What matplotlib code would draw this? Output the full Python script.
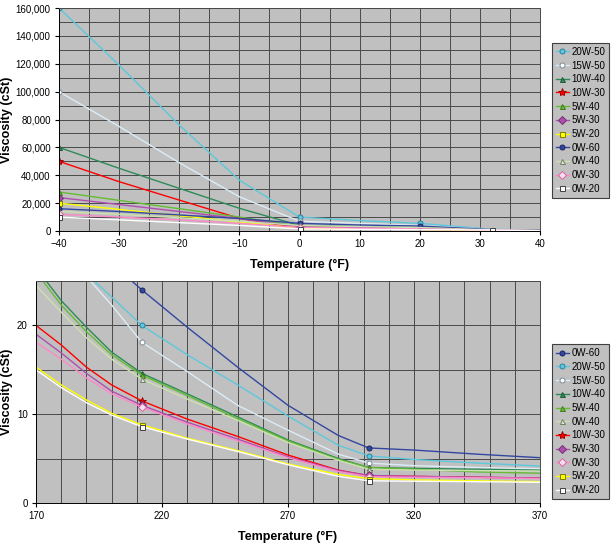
import matplotlib
matplotlib.use("Agg")
import matplotlib.pyplot as plt
from matplotlib.ticker import FuncFormatter, MultipleLocator

plt.rcParams['font.family'] = ['Liberation Sans', 'DejaVu Sans']

# cold end (°F)
cold_temp = [-40, -30, -20, -10, 0, 10, 20, 32, 40]
cold = {
    "20W-50": [160000, 119000, 76000, 36500, 10000, 7500, 5500, 1200, 600],
    "15W-50": [100000, 75000, 49000, 24600, 7000, 5500, 4000, 1000, 500],
    "10W-40": [60000, 45000, 30600, 16300, 4000, 3200, 2500, 800, 400],
    "10W-30": [50000, 35400, 22200, 9100, 2000, 1600, 1200, 600, 300],
    "5W-40": [28000, 22000, 16000, 10000, 3500, 2800, 2200, 800, 400],
    "5W-30": [24000, 19000, 14000, 9000, 3000, 2400, 1800, 700, 350],
    "5W-20": [20000, 15500, 11000, 6500, 2000, 1600, 1200, 600, 300],
    "0W-60": [16000, 14000, 11500, 9000, 5500, 4300, 3600, 1000, 700],
    "0W-40": [14000, 12000, 9500, 7000, 4000, 3200, 2500, 800, 400],
    "0W-30": [12000, 10000, 8000, 5500, 2500, 2000, 1500, 700, 350],
    "0W-20": [10000, 8000, 6000, 4000, 1500, 1200, 1000, 700, 300],
}
cold_marks = {"20W-50": [0, 4, 6], "0W-60": [0, 4, 6], "0W-20": [0, 4, 7]}

# hot end (°F)
hot_temp = [170, 180, 190, 200, 212, 230, 250, 270, 290, 302, 320, 345, 370]
hot = {
    "0W-60": [38, 34, 30.5, 27.0, 24.0, 19.8, 15.3, 11.0, 7.6, 6.2, 5.96, 5.5, 5.1],
    "20W-50": [32, 28.5, 25.8, 23.2, 20.0, 16.7, 13.3, 9.8, 6.5, 5.3, 4.9, 4.5, 4.16],
    "15W-50": [33, 29, 25.5, 22.3, 18.1, 14.8, 11.0, 8.2, 5.5, 4.5, 4.2, 4.0, 3.86],
    "10W-40": [26.5, 22.8, 19.8, 17.0, 14.6, 12.3, 9.7, 7.1, 5.0, 4.0, 3.9, 3.8, 3.7],
    "5W-40": [26, 22.3, 19.3, 16.7, 14.4, 12.1, 9.5, 7.0, 4.9, 4.0, 3.8, 3.5, 3.35],
    "0W-40": [24.5, 21.5, 18.6, 16.2, 13.95, 11.7, 9.3, 6.8, 4.8, 3.8, 3.7, 3.65, 3.6],
    "10W-30": [20.0, 17.8, 15.3, 13.3, 11.5, 9.45, 7.5, 5.4, 3.7, 3.07, 3.0, 2.9, 2.8],
    "5W-30": [19.0, 16.9, 14.6, 12.6, 11.0, 9.1, 7.2, 5.2, 3.65, 3.1, 3.0, 2.9, 2.8],
    "0W-30": [18.1, 16.2, 14.1, 12.3, 10.8, 8.9, 7.0, 5.1, 3.55, 2.96, 2.9, 2.85, 2.75],
    "5W-20": [15.3, 13.3, 11.6, 10.1, 8.8, 7.3, 5.9, 4.4, 3.2, 2.75, 2.6, 2.5, 2.4],
    "0W-20": [15.0, 13.0, 11.3, 9.9, 8.6, 7.2, 5.8, 4.3, 3.0, 2.5, 2.45, 2.4, 2.33],
}
hot_marks = [4, 9]

cold_order = ["20W-50", "15W-50", "10W-40", "10W-30", "5W-40", "5W-30",
              "5W-20", "0W-60", "0W-40", "0W-30", "0W-20"]
hot_order = ["0W-60", "20W-50", "15W-50", "10W-40", "5W-40", "0W-40",
             "10W-30", "5W-30", "0W-30", "5W-20", "0W-20"]

# line colour, marker, marker face, marker edge
style = {
    "20W-50": ("#5CC8DC", "o", "#5CC8DC", "#2F7F9F"),
    "15W-50": ("#DCECF6", "o", "#FFFFFF", "#7A8A9A"),
    "10W-40": ("#2E8B57", "^", "#2E8B57", "#1E5B37"),
    "10W-30": ("#FF0000", "*", "#FF0000", "#A00000"),
    "5W-40": ("#66BB33", "^", "#66BB33", "#3E7B1F"),
    "5W-30": ("#B04EB0", "D", "#B04EB0", "#703070"),
    "5W-20": ("#FFFF00", "s", "#FFFF00", "#808000"),
    "0W-60": ("#3347A0", "o", "#3347A0", "#1A2560"),
    "0W-40": ("#CCE0B0", "^", "#E0E0E0", "#708060"),
    "0W-30": ("#FF88C8", "D", "#F0E0F0", "#E060A0"),
    "0W-20": ("#FFFFFF", "s", "#FFFFFF", "#404040"),
}

fig = plt.figure(figsize=(6.14, 5.49), dpi=100)
ax1 = fig.add_axes([0.0961, 0.5792, 0.7834, 0.4062])
ax2 = fig.add_axes([0.0586, 0.0838, 0.8209, 0.4044])


def draw(ax, xs, data, marks, order):
    for name in order:
        ys = data[name]
        c, m, fc, ec = style[name]
        me = marks.get(name, [0, 4]) if isinstance(marks, dict) else marks
        ms = 6 if m == "*" else 3.6
        ax.plot(xs, ys, color=c, lw=1.0, marker=m, markevery=me, ms=ms,
                mfc=fc, mec=ec, mew=0.7, label=name)


def style_axes(ax, label_x):
    ax.set_facecolor("#C0C0C0")
    ax.grid(True, which="both", color="#4A4A4A", lw=0.7)
    ax.set_axisbelow(True)
    for s in ax.spines.values():
        s.set_color("#4A4A4A")
        s.set_linewidth(0.7)
    ax.spines["left"].set_color("black")
    ax.spines["bottom"].set_color("black")
    ax.tick_params(which="major", length=3, labelsize=7, color="black", pad=3)
    ax.tick_params(which="minor", length=0)
    ax.set_ylabel("Viscosity (cSt)", fontsize=9, fontweight="bold")
    ax.yaxis.set_label_coords(label_x, 0.5)
    ax.set_xlabel("Temperature (°F)", fontsize=9, fontweight="bold", labelpad=7)


draw(ax1, cold_temp, cold, cold_marks, cold_order)
ax1.set_xlim(-40, 40)
ax1.set_ylim(0, 160000)
ax1.xaxis.set_major_locator(MultipleLocator(10))
ax1.xaxis.set_minor_locator(MultipleLocator(5))
ax1.yaxis.set_major_locator(MultipleLocator(20000))
ax1.yaxis.set_minor_locator(MultipleLocator(10000))
ax1.yaxis.set_major_formatter(FuncFormatter(lambda v, p: f"{int(v):,}"))
style_axes(ax1, -0.095)

draw(ax2, hot_temp, hot, hot_marks, hot_order)
ax2.set_xlim(170, 370)
ax2.set_ylim(0, 25)
ax2.set_xticks(list(range(170, 371, 50)))
ax2.xaxis.set_minor_locator(MultipleLocator(10))
ax2.yaxis.set_major_locator(MultipleLocator(10))
ax2.yaxis.set_minor_locator(MultipleLocator(5))
style_axes(ax2, -0.045)

for ax, box in ((ax1, (0.899, 0.640)), (ax2, (0.899, 0.091))):
    leg = ax.legend(loc="lower left", bbox_to_anchor=box, bbox_transform=fig.transFigure,
                    fontsize=7, frameon=True, fancybox=False, handlelength=1.3,
                    handletextpad=0.3, borderpad=0.4, labelspacing=0.38,
                    numpoints=1, borderaxespad=0)
    leg.get_frame().set_facecolor("#C0C0C0")
    leg.get_frame().set_edgecolor("#404040")
    leg.get_frame().set_linewidth(0.8)
    leg.get_frame().set_alpha(1)

fig.savefig("out.png", dpi=100)
